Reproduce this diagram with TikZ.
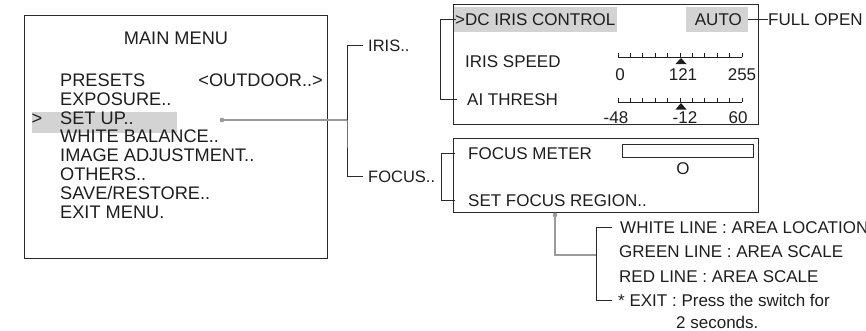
\documentclass[tikz,border=0pt]{standalone}
\usepackage{fontspec}
\setmainfont{Liberation Sans}
\definecolor{ink}{HTML}{1E1E1E}
\definecolor{boxc}{HTML}{2A2A2A}
\definecolor{greyc}{HTML}{9A9A9A}
\definecolor{hlc}{HTML}{D3D3D3}
\begin{document}
\begin{tikzpicture}[x=1pt,y=-1pt,
  txt/.style={inner sep=0pt, text height=12.2pt, text depth=0pt, font=\fontsize{17}{20}\selectfont, text=ink},
  txtm/.style={inner sep=0pt, text height=13pt, text depth=0pt, font=\fontsize{18.2}{21}\selectfont, text=ink},
  frame/.style={draw=boxc, line width=1.3pt, inner sep=0pt, anchor=north west},
  brk/.style={draw=boxc, line width=1pt},
  gln/.style={draw=greyc, line width=1.3pt},
  hl/.style={fill=hlc, draw=none},
  scl/.style={draw=ink, line width=0.9pt}]
\useasboundingbox (0,0) rectangle (866,330);

% ---------- main menu ----------
\fill[hl] (32,112) rectangle (177,133);
\node[frame, minimum width=303pt, minimum height=243pt] (mainbox) at (24,15) {};
\node[txtm] (mtitle) at (176,38) {MAIN MENU};
\node[txtm, anchor=west] (m1) at (60,80) {PRESETS};
\node[txtm, anchor=east] (m1v) at (323,80) {<OUTDOOR..>};
\node[txtm, anchor=west] (m2) at (60,99) {EXPOSURE..};
\node[txtm] (marrow) at (37,118) {>};
\node[txtm, anchor=west] (m3) at (60,118) {SET UP..};
\node[txtm, anchor=west] (m4) at (60,136) {WHITE BALANCE..};
\node[txtm, anchor=west] (m5) at (60,155) {IMAGE ADJUSTMENT..};
\node[txtm, anchor=west] (m6) at (60,174) {OTHERS..};
\node[txtm, anchor=west] (m7) at (60,193) {SAVE/RESTORE..};
\node[txtm, anchor=west] (m8) at (60,212) {EXIT MENU.};

\fill[greyc] (222,120) circle (2.3pt);
\coordinate (setdot) at (222,120);
\coordinate (b1) at (347,120);
\draw[gln] (setdot) -- (b1);

\node[txt, anchor=west, font=\fontsize{16.5}{19}\selectfont] (iris) at (368,45) {IRIS..};
\node[txt, anchor=west, font=\fontsize{16.5}{19}\selectfont] (focus) at (368,176) {FOCUS..};
\draw[brk] ([xshift=-5pt]iris.west) -| (b1) |- ([xshift=-5pt]focus.west);
\draw[brk] (b1) -- ([yshift=-1pt]b1 |- iris.west);

% ---------- iris box ----------
\fill[hl] (454,7) rectangle (617,32);
\fill[hl] (686,7) rectangle (748,32);
\node[frame, minimum width=305pt, minimum height=120pt] (irisbox) at (453,4) {};
\node[txt, anchor=west] (dc) at (455,19) {>DC IRIS CONTROL};
\node[txt, anchor=east] (auto) at (742,19) {AUTO};
\node[txt, anchor=west] (fullopen) at (768,19) {FULL OPEN};
\draw[brk] (748,19) -- (fullopen.west);
\node[txt, anchor=west] (ispeed) at (465,61) {IRIS SPEED};
\node[txt, anchor=west] (aith) at (467,99) {AI THRESH};
\draw[brk] ([xshift=1pt]dc.west) -- ++(-16,0) |- ([xshift=-10pt]aith.west);

% scales
\draw[scl] (618,57) -- (742,57);
\foreach \i in {0,...,10} \draw[scl] (618+12.4*\i,57.4) -- ++(0,-4.5);
\fill[ink] (681,58) -- (675.5,64) -- (686.5,64) -- cycle;
\node[txt] (s1a) at (620,74) {0};
\node[txt] (s1b) at (683,74) {121};
\node[txt] (s1c) at (742,74) {255};

\draw[scl] (618,102) -- (742,102);
\foreach \i in {0,...,10} \draw[scl] (618+12.4*\i,102.4) -- ++(0,-4.5);
\fill[ink] (681,103) -- (675.5,109.5) -- (686.5,109.5) -- cycle;
\node[txt] (s2a) at (616,117) {-48};
\node[txt] (s2b) at (685,117) {-12};
\node[txt] (s2c) at (738,117) {60};

% ---------- focus box ----------
\node[frame, minimum width=305pt, minimum height=74pt] (focusbox) at (453,138) {};
\node[txt, anchor=west] (fmeter) at (468,153) {FOCUS METER};
\node[draw=boxc, line width=1pt, minimum width=131pt, minimum height=13pt, inner sep=0pt, anchor=north west] (meter) at (622,144) {};
\node[txt] (fo) at (683,168) {O};
\node[txt, anchor=west] (fregion) at (468,200) {SET FOCUS REGION..};
\draw[brk] ([xshift=-13pt]fmeter.west) -- ++(-14,0) |- ([xshift=-13pt]fregion.west);

% ---------- focus region notes ----------
\coordinate (fdot) at (555,215);
\fill[greyc] (fdot) circle (2.3pt);
\node[txt, anchor=west] (n1) at (620,227) {WHITE LINE : AREA LOCATION};
\node[txt, anchor=west] (n2) at (619,251) {GREEN LINE : AREA SCALE};
\node[txt, anchor=west] (n3) at (619,276) {RED LINE : AREA SCALE};
\node[txt, anchor=west] (n4) at (618,300) {* EXIT : Press the switch for};
\node[txt, anchor=west] (n5) at (676,322) {2 seconds.};
\coordinate (b2) at (596,255);
\draw[gln] (fdot) |- (b2);
\draw[brk] ([xshift=-8pt]n1.west) -| (b2) |- ([xshift=-6pt]n4.west);
\end{tikzpicture}
\end{document}
